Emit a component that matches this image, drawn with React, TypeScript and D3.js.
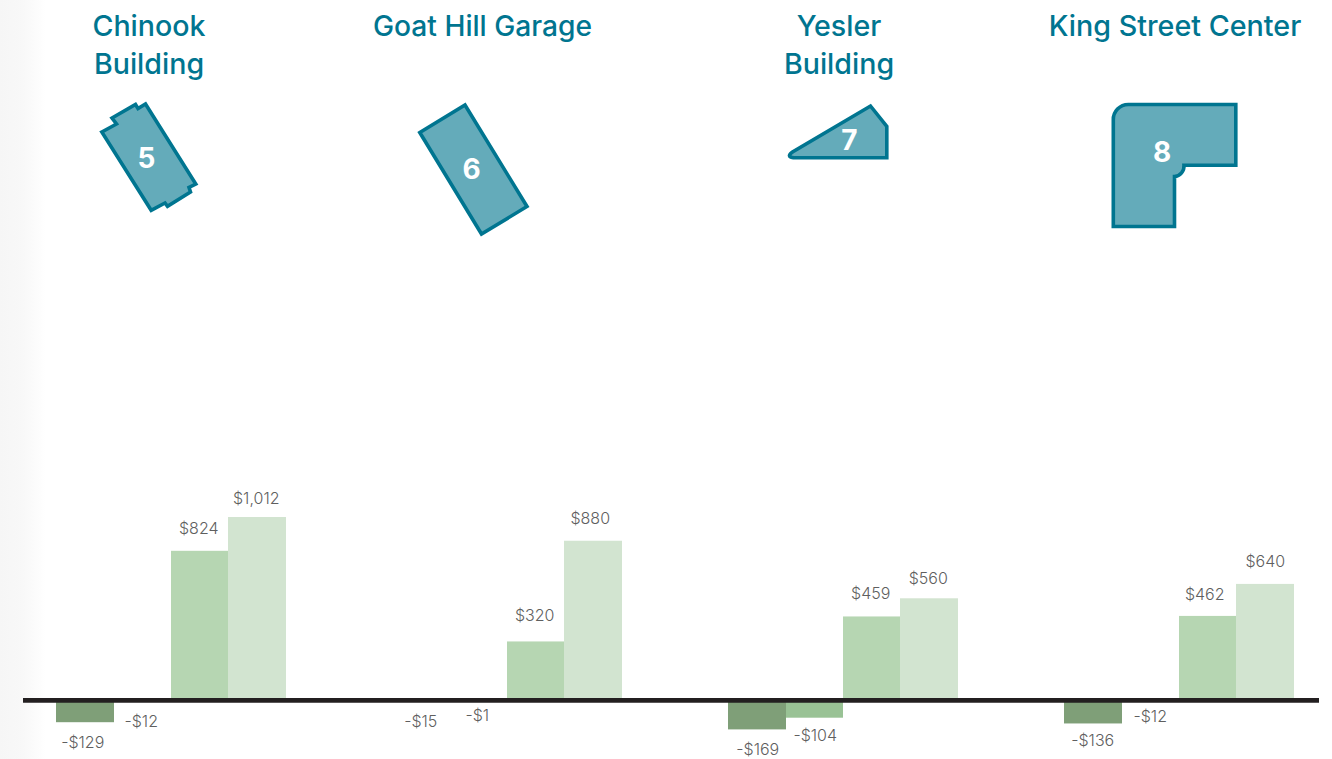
import React from "react";
import * as d3 from "d3";

const WIDTH = 1332;
const HEIGHT = 759;

// Building names, one entry per title line
const buildings = ["Chinook Building", "Goat Hill Garage", "Yesler Building", "King Street Center"];
const titleLines = [["Chinook", "Building"], ["Goat Hill Garage"], ["Yesler", "Building"], ["King Street Center"]];
const titleCentres = [149, 482.5, 839, 1175];
const titleSizes = [28.6, 28.2, 28.6, 28.7];
const buildingNumbers = ["5", "6", "7", "8"];
const numberAnchors = [[146.5, 168], [471.5, 179], [849.5, 150], [1162, 161.5]];

// Dollar values per building, in drawing order
const seriesKeys = ["a", "b", "c", "d"];
const seriesA = [-129, -15, -169, -136];
const seriesB = [-12, -1, -104, -12];
const seriesC = [824, 320, 459, 462];
const seriesD = [1012, 880, 560, 640];
const seriesValues = [seriesA, seriesB, seriesC, seriesD];
const seriesColors = ["#7f9f78", "#99c295", "#b6d6b2", "#d2e4d0"];
const paintOrder = [1, 0, 2, 3];

// Hand placement of each value label relative to its anchor: [dx, dy] per building.
// The narrow negative labels sit against the baseline, the rest against their bar end.
const labelNudges = [
  [[-2, 20.5], [0, 22], [1, 19.5], [0, 17]],
  [[-1, 22], [-1, 16], [1, 36], [0, 17]],
  [[-1, -23], [-1, -26], [-1, -23], [-3, -22]],
  [[-1, -19], [-3, -22], [-1, -20], [0, -23]],
];
const baselineAnchored = [[false, true, false, false], [true, true, true, true]];

// Footprint outlines
const footprints = [
  "M101.8,132 L116.5,124 L112,118 L135.5,104.5 L138,108.5 L145.5,104 L195.8,184 L189,187.5 L190.5,192 L167.5,206.3 L165,203 L151.2,210.3 Z",
  "M419.8,132.5 L465,105 L527,206.5 L481.5,234 Z",
  "M870.5,106 L886.8,126.5 L886.8,157.8 L796,157.8 Q785,157.5 792.5,152 Z",
  "M1113.3,120 A15,15 0 0 1 1128.3,104.5 L1235.8,104.5 L1235.8,165.2 L1184,165.2 A10.5,10.5 0 0 1 1174.5,176.5 L1174.5,226.5 L1113.3,226.5 Z",
];

const fmt = (v: number) => (v < 0 ? "-$" : "$") + d3.format(",")(Math.abs(v));

export default function App() {
  const x = d3.scaleBand<string>().domain(buildings).range([56, 56 + 336 * 4]);
  const inner = d3.scaleBand<string>().domain(seriesKeys).range([0, 230]);
  const y = d3.scaleLinear().domain([0, 1012]).range([699, 517]);
  const sans = "Inter, 'Noto Sans', sans-serif";

  return (
    <svg
      width={WIDTH}
      height={HEIGHT}
      viewBox={`0 0 ${WIDTH} ${HEIGHT}`}
      style={{ position: "absolute", left: 0, top: 0, display: "block", background: "#fff" }}
    >
      <defs>
        <linearGradient id="edgeFade" x1="0" x2="1" y1="0" y2="0">
          <stop offset="0" stopColor="#f6f6f6" />
          <stop offset="0.5" stopColor="#f8f8f8" />
          <stop offset="1" stopColor="#ffffff" />
        </linearGradient>
      </defs>
      <rect x={0} y={0} width={46} height={HEIGHT} fill="url(#edgeFade)" />

      {buildings.map((b, i) => (
        <g key={b}>
          <text textAnchor="middle" fontFamily={sans} fontSize={titleSizes[i]} fontWeight={500} fill="#007590">
            {titleLines[i].map((line, j) => (
              <tspan key={line} x={titleCentres[i]} y={36 + j * 38}>
                {line}
              </tspan>
            ))}
          </text>
          <path d={footprints[i]} fill="#64abba" stroke="#007590" strokeWidth={3.6} strokeLinejoin="miter" />
          <text
            x={numberAnchors[i][0]}
            y={numberAnchors[i][1]}
            textAnchor="middle"
            fontFamily={sans}
            fontSize={28}
            fontWeight={700}
            fill="#fff"
          >
            {buildingNumbers[i]}
          </text>
        </g>
      ))}

      {paintOrder.map((s) =>
        buildings.map((b, i) => {
          const k = seriesKeys[s];
          const v = seriesValues[s][i];
          const end = y(v);
          return (
            <rect
              key={k + b}
              x={Math.floor(x(b)! + inner(k)!)}
              y={Math.min(end, y(0))}
              width={Math.ceil(inner.bandwidth())}
              height={Math.abs(end - y(0))}
              fill={seriesColors[s]}
            />
          );
        })
      )}

      <line x1={23} x2={1319} y1={700.3} y2={700.3} stroke="#231f20" strokeWidth={4.7} />

      {seriesKeys.map((k, s) =>
        buildings.map((b, i) => {
          const v = seriesValues[s][i];
          const [dx, dy] = labelNudges[s][i];
          const onBaseline = baselineAnchored[s]?.[i] ?? false;
          return (
            <text
              key={k + b}
              x={x(b)! + inner(k)! + inner.bandwidth() / 2 + dx}
              y={(onBaseline ? y(0) : y(v)) + dy}
              dy="0.36em"
              textAnchor="middle"
              fontFamily={sans}
              fontSize={16}
              fontWeight={300}
              fill="#5f5f5f"
            >
              {fmt(v)}
            </text>
          );
        })
      )}
    </svg>
  );
}
